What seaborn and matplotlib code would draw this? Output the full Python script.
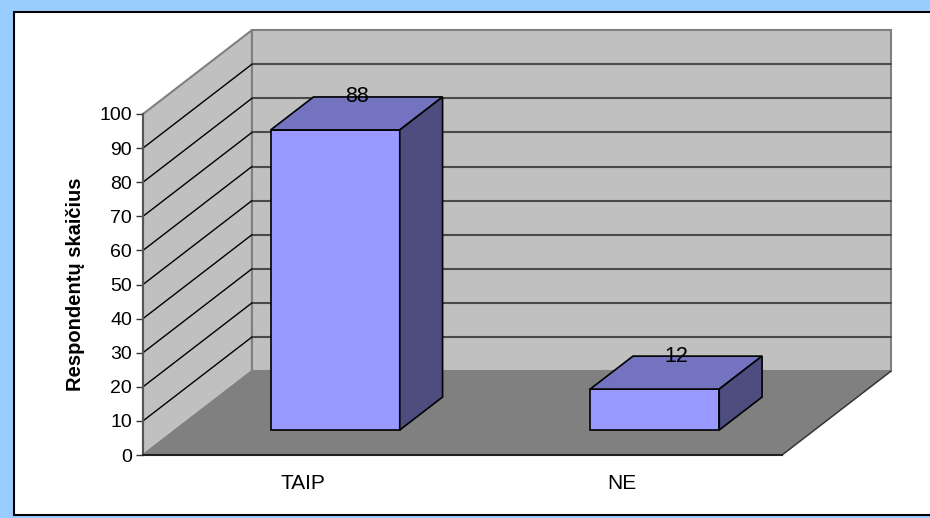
import matplotlib
matplotlib.use('Agg')
import matplotlib.pyplot as plt
from matplotlib.patches import Polygon, Rectangle
import seaborn as sns

# ===============================
# Chart data
# ===============================
categories = ['TAIP', 'NE']
values = [88, 12]
y_ticks = [0, 10, 20, 30, 40, 50, 60, 70, 80, 90, 100]
y_label = 'Respondentų skaičius'

# ===============================
# Style
# ===============================
sns.set_style('white')
plt.rcParams['font.family'] = ['Liberation Sans', 'DejaVu Sans']
plt.rcParams['text.color'] = 'black'
plt.rcParams['axes.labelcolor'] = 'black'
plt.rcParams['xtick.color'] = 'black'
plt.rcParams['ytick.color'] = 'black'

WALL = '#C0C0C0'
FLOOR = '#808080'
EDGE = '#808080'
FRONT = '#9999FF'
TOP = '#7373C0'
SIDE = '#4D4D80'

# fake 3d depth (in data units of the front plane)
DX, DY = 0.341, 24.6        # full floor depth
BAR_W = 0.404               # bar width
F0 = 0.298                  # depth at which the bar front sits
BD = 0.393                  # bar depth as share of floor depth

fig = plt.figure(figsize=(9.3, 5.18), dpi=100, facecolor='#99CCFF')
fig.add_artist(Rectangle((14 / 930, 3 / 518), 1.0, 503 / 518,
                         transform=fig.transFigure, facecolor='white',
                         edgecolor='black', linewidth=1.5, zorder=0))

ax = fig.add_axes([143 / 930, 63 / 518, 639 / 930, 341 / 518])
ax.set_facecolor('none')

x0, x1 = -0.5, len(categories) - 0.5
top = y_ticks[-1]

# ===============================
# Walls and floor
# ===============================
side_wall = Polygon([(x0, 0), (x0, top), (x0 + DX, top + DY), (x0 + DX, DY)],
                    closed=True, facecolor=WALL, edgecolor=EDGE, lw=1.5,
                    clip_on=False, zorder=0.5)
back_wall = Polygon([(x0 + DX, DY), (x0 + DX, top + DY), (x1 + DX, top + DY), (x1 + DX, DY)],
                    closed=True, facecolor=WALL, edgecolor=EDGE, lw=1.5,
                    clip_on=False, zorder=0.5)
floor = Polygon([(x0, 0), (x1, 0), (x1 + DX, DY), (x0 + DX, DY)],
                closed=True, facecolor=FLOOR, edgecolor=FLOOR, lw=1,
                clip_on=False, zorder=0.6)
for p in (side_wall, back_wall, floor):
    ax.add_patch(p)

# gridlines on the walls
for v in y_ticks[1:-1]:
    ax.plot([x0 + DX, x1 + DX], [v + DY, v + DY], color='#4A4A4A', lw=1.5,
            clip_on=False, zorder=0.7)
    ax.plot([x0, x0 + DX], [v, v + DY], color='black', lw=1,
            clip_on=False, zorder=0.7)
ax.plot([x1 + DX, x1], [DY, 0], color='#333333', lw=1, clip_on=False, zorder=0.8)

# ===============================
# Bars (front face via seaborn, then top and side faces)
# ===============================
sns.barplot(x=categories, y=values, ax=ax, width=BAR_W, color=FRONT,
            saturation=1, edgecolor='black', linewidth=1.2, zorder=3)

off_x, off_y = F0 * DX, F0 * DY
bdx, bdy = BD * DX, BD * DY
for bar, val in zip(ax.patches[-len(values):], values):
    bar.set_x(bar.get_x() + off_x)
    bar.set_y(off_y)
    bar.set_clip_on(False)
    bx, bw = bar.get_x(), bar.get_width()
    h = off_y + val
    top_face = Polygon([(bx, h), (bx + bw, h), (bx + bw + bdx, h + bdy), (bx + bdx, h + bdy)],
                       closed=True, facecolor=TOP, edgecolor='black', lw=1.2,
                       clip_on=False, zorder=3)
    side_face = Polygon([(bx + bw, off_y), (bx + bw, h), (bx + bw + bdx, h + bdy),
                         (bx + bw + bdx, off_y + bdy)],
                        closed=True, facecolor=SIDE, edgecolor='black', lw=1.2,
                        clip_on=False, zorder=3)
    ax.add_patch(top_face)
    ax.add_patch(side_face)
    ax.text(bx + (bw + bdx) / 2, h + bdy, str(val), ha='center', va='center',
            fontsize=15.5, color='black', zorder=4)

# ===============================
# Axes
# ===============================
ax.set_xlim(x0, x1)
ax.set_ylim(0, top)
ax.set_yticks(y_ticks)
ax.set_xticks(range(len(categories)))
ax.set_xticklabels(categories)
ax.set_xticks([x0 + i for i in range(len(categories) + 1)], minor=True)
ax.tick_params(axis='x', which='major', length=0, pad=14, labelsize=15)
ax.tick_params(axis='x', which='minor', length=5, width=1, color='#555555', direction='out')
ax.tick_params(axis='y', length=5, width=1, color='#333333', direction='out',
               pad=3, labelsize=14, left=True)
ax.set_xlabel('')
ax.set_ylabel(y_label, fontsize=14.5, fontweight='bold')
ax.yaxis.set_label_coords(-0.09, 0.5)

for s in ('top', 'right'):
    ax.spines[s].set_visible(False)
ax.spines['left'].set_color('#555555')
ax.spines['left'].set_linewidth(1.5)
ax.spines['bottom'].set_color('#222222')
ax.spines['bottom'].set_linewidth(1.5)

fig.savefig('out.png', dpi=100, facecolor=fig.get_facecolor())
